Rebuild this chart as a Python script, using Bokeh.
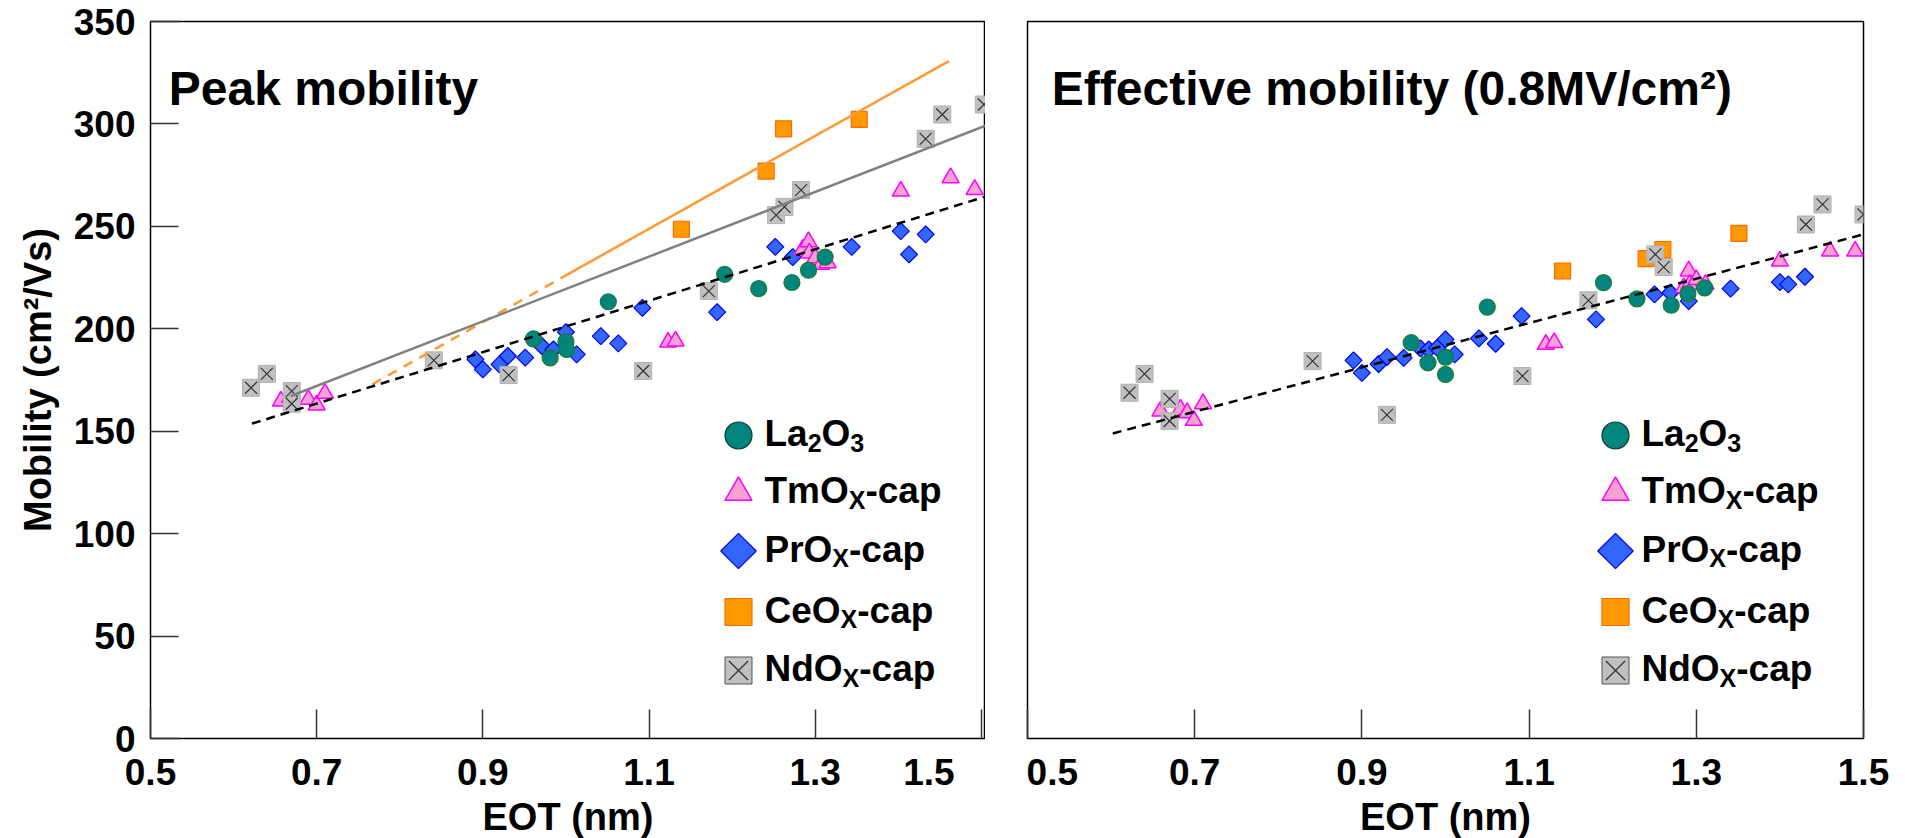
import math
from bokeh.plotting import figure
from bokeh.models import Range1d, FixedTicker, Label
from bokeh.layouts import row
from bokeh.embed import file_html
from bokeh.resources import INLINE

FONT = "Liberation Sans"

# ---------------- data: Peak mobility ----------------
pk_la_x = [0.961, 0.981, 1.000, 1.001, 1.051, 1.191, 1.232, 1.272, 1.292, 1.312]
pk_la_y = [195.1, 185.8, 193.7, 189.9, 213.2, 226.6, 219.6, 222.6, 228.6, 235.0]
pk_tm_x = [0.657, 0.668, 0.690, 0.700, 0.710, 1.123, 1.132, 1.285, 1.292, 1.293, 1.300, 1.307, 1.315, 1.403, 1.463, 1.492]
pk_tm_y = [164.7, 166.5, 165.5, 162.8, 168.5, 193.5, 194.0, 238.7, 242.5, 237.0, 234.6, 231.4, 232.2, 267.2, 273.7, 268.0]
pk_pr_x = [0.891, 0.900, 0.920, 0.930, 0.951, 0.971, 0.985, 1.000, 1.013, 1.042, 1.063, 1.092, 1.182, 1.252, 1.273, 1.344, 1.403, 1.413, 1.433]
pk_pr_y = [185.1, 180.2, 182.6, 186.7, 185.9, 191.6, 189.9, 198.4, 187.5, 196.4, 192.9, 210.2, 208.1, 240.0, 235.0, 240.0, 247.7, 236.3, 246.1]
pk_ce_x = [1.139, 1.241, 1.262, 1.353]
pk_ce_y = [248.6, 277.0, 297.6, 302.2]
pk_nd_x = [0.621, 0.640, 0.670, 0.670, 0.841, 0.931, 1.093, 1.172, 1.253, 1.263, 1.283, 1.433, 1.453, 1.503]
pk_nd_y = [171.2, 178.0, 169.6, 163.4, 184.6, 177.4, 179.4, 218.4, 255.5, 259.5, 267.7, 292.7, 304.6, 309.5]
# fitted trend lines (end points)
pk_fit_all_x = [0.622, 1.503]
pk_fit_all_y = [153.7, 264.3]
pk_fit_nd_x = [0.669, 1.537]
pk_fit_nd_y = [167.2, 304.2]
pk_fit_ce_dash_x = [0.767, 1.000]
pk_fit_ce_dash_y = [172.9, 226.1]
pk_fit_ce_x = [1.000, 1.461]
pk_fit_ce_y = [226.1, 330.7]

# ---------------- data: Effective mobility ----------------
ef_la_x = [0.959, 0.979, 1.000, 1.000, 1.050, 1.189, 1.229, 1.270, 1.290, 1.310]
ef_la_y = [193.2, 183.4, 186.2, 177.7, 210.6, 222.5, 214.6, 211.5, 217.2, 220.0]
ef_tm_x = [0.659, 0.669, 0.683, 0.691, 0.699, 0.710, 1.120, 1.130, 1.285, 1.291, 1.292, 1.300, 1.311, 1.400, 1.460, 1.490]
ef_tm_y = [159.8, 164.7, 160.7, 159.0, 155.3, 163.4, 192.4, 193.2, 220.0, 228.2, 221.7, 224.0, 221.7, 233.0, 237.9, 237.9]
ef_pr_x = [0.890, 0.900, 0.920, 0.930, 0.950, 0.970, 0.980, 0.990, 1.000, 1.011, 1.040, 1.060, 1.091, 1.180, 1.250, 1.269, 1.291, 1.341, 1.400, 1.410, 1.430]
ef_pr_y = [184.6, 178.5, 182.8, 186.2, 185.8, 190.4, 189.9, 190.7, 194.8, 187.5, 195.3, 192.7, 206.2, 204.6, 216.8, 217.6, 213.5, 219.6, 222.8, 221.7, 225.4]
ef_ce_x = [1.140, 1.240, 1.260, 1.351]
ef_ce_y = [228.2, 234.2, 238.7, 246.6]
ef_nd_x = [0.622, 0.640, 0.670, 0.670, 0.841, 0.930, 1.092, 1.171, 1.251, 1.261, 1.431, 1.451, 1.500]
ef_nd_y = [168.8, 178.0, 165.8, 155.0, 184.2, 158.0, 176.9, 213.9, 236.3, 230.1, 250.9, 260.7, 255.8]
ef_fit_x = [0.602, 1.500]
ef_fit_y = [148.9, 246.1]

x_ticks = [0.5, 0.7, 0.9, 1.1, 1.3, 1.5]
y_ticks = [0, 50, 100, 150, 200, 250, 300, 350]

# legend text: list of (text, is_subscript)
legend_texts = [
    [("La", False), ("2", True), ("O", False), ("3", True)],
    [("TmO", False), ("X", True), ("-cap", False)],
    [("PrO", False), ("X", True), ("-cap", False)],
    [("CeO", False), ("X", True), ("-cap", False)],
    [("NdO", False), ("X", True), ("-cap", False)],
]

# ---------------- layout constants ----------------
FRAME_H = 717
TOP = 21
BOTTOM = 100
Y_RANGE = (0, 350)
TICK_FS = 37
AXIS_FS = 38
LEG_FS = 37
SUB_FS = 25
TITLE_FS = 48
NBSP = "\u00a0"

# Arial/Liberation Sans Bold advance widths (em)
W = {' ': 0.278, '-': 0.333, 'L': 0.611, 'a': 0.556, 'O': 0.778, 'T': 0.611, 'm': 0.889,
     'P': 0.667, 'r': 0.389, 'C': 0.722, 'e': 0.556, 'N': 0.722, 'd': 0.611, 'X': 0.667,
     'c': 0.556, 'p': 0.611, '2': 0.556, '3': 0.556}


def text_w(s, fs):
    return sum(W.get(ch, 0.556) for ch in s) * fs


def to_data(xr, frame_w, dx, y_from_top):
    """frame pixel offset (from frame left / figure top) -> data coords"""
    x0, x1 = xr
    xd = x0 + dx / frame_w * (x1 - x0)
    yd = Y_RANGE[1] - (y_from_top - TOP) / FRAME_H * (Y_RANGE[1] - Y_RANGE[0])
    return xd, yd


def make_fig(xr, frame_w, left_b, right_b, show_y):
    p = figure(x_range=Range1d(*xr), y_range=Range1d(*Y_RANGE),
               frame_width=frame_w, frame_height=FRAME_H,
               min_border_left=left_b, min_border_right=right_b,
               min_border_top=TOP, min_border_bottom=BOTTOM,
               output_backend="svg", toolbar_location=None,
               y_axis_location="left" if show_y else None,
               background_fill_color="white", border_fill_color="white")
    p.grid.visible = False
    p.outline_line_color = "black"
    p.outline_line_width = 1.5
    p.xaxis.ticker = FixedTicker(ticks=x_ticks)
    p.xaxis.axis_line_color = None
    p.xaxis.major_tick_in = 29
    p.xaxis.major_tick_out = 0
    p.xaxis.minor_tick_line_color = None
    p.xaxis.major_tick_line_color = "#333333"
    p.xaxis.major_tick_line_width = 1.5
    p.xaxis.major_label_text_font = FONT
    p.xaxis.major_label_text_font_style = "bold"
    p.xaxis.major_label_text_font_size = f"{TICK_FS}px"
    p.xaxis.major_label_text_color = "black"
    p.xaxis.major_label_standoff = 13
    p.xaxis.axis_label = "EOT (nm)"
    p.xaxis.axis_label_text_font = FONT
    p.xaxis.axis_label_text_font_style = "bold"
    p.xaxis.axis_label_text_font_size = f"{AXIS_FS}px"
    p.xaxis.axis_label_text_color = "black"
    p.xaxis.axis_label_standoff = 0
    if show_y:
        p.yaxis.ticker = FixedTicker(ticks=y_ticks)
        p.yaxis.axis_line_color = None
        p.yaxis.major_tick_in = 28
        p.yaxis.major_tick_out = 0
        p.yaxis.minor_tick_line_color = None
        p.yaxis.major_tick_line_color = "#333333"
        p.yaxis.major_tick_line_width = 1.5
        p.yaxis.major_label_text_font = FONT
        p.yaxis.major_label_text_font_style = "bold"
        p.yaxis.major_label_text_font_size = f"{TICK_FS}px"
        p.yaxis.major_label_text_color = "black"
        p.yaxis.major_label_standoff = 15
        p.yaxis.axis_label = "Mobility (cm²/Vs)"
        p.yaxis.axis_label_text_font = FONT
        p.yaxis.axis_label_text_font_style = "bold"
        p.yaxis.axis_label_text_font_size = f"{AXIS_FS}px"
        p.yaxis.axis_label_text_color = "black"
        p.yaxis.axis_label_standoff = 12
    return p


STYLES = {
    "la": dict(marker="circle", fill_color="#00857f", line_color="#1d7a2a", line_width=1.2),
    "tm": dict(marker="triangle", fill_color="#f8a2d2", line_color="#ff00ff", line_width=1.5),
    "pr": dict(marker="square", angle=math.pi / 4, fill_color="#3366ff", line_color="#0000ee", line_width=1.2),
    "ce": dict(marker="square", fill_color="#ff9900", line_color="#ff6a00", line_width=1.2),
    "nd": dict(marker="square", fill_color="#c0c0c0", line_color="#b0b0b0", line_width=1),
}
SIZES = {"la": 16, "tm": 17, "pr": 12, "ce": 16, "nd": 17}
LEG_SIZES = {"la": 27, "tm": 27, "pr": 25, "ce": 27, "nd": 27}
ORDER_DRAW = ["ce", "pr", "tm", "nd", "la"]
ORDER_LEGEND = ["la", "tm", "pr", "ce", "nd"]


def add_series(p, series):
    for key in ORDER_DRAW:
        xs, ys = series[key]
        p.scatter(xs, ys, size=SIZES[key], **STYLES[key])
        if key == "nd":
            p.scatter(xs, ys, marker="x", size=SIZES[key], line_color="#333333", line_width=1.2)


LEG_CENTERS = [435, 492, 550.5, 611.5, 670]   # marker centres, px from figure top
LEG_MARKER_X = 588                            # px from frame left
LEG_TEXT_X = 614
TEXT_BASE_DY = -2


def add_legend(p, xr, frame_w):
    for key, cy, pieces in zip(ORDER_LEGEND, LEG_CENTERS, legend_texts):
        mx, my = to_data(xr, frame_w, LEG_MARKER_X, cy)
        st = dict(STYLES[key])
        if key == "la":
            st["line_color"] = "#1a3a2a"
        if key == "nd":
            st["line_color"] = "#555555"
        p.scatter([mx], [my], size=LEG_SIZES[key], **st)
        if key == "nd":
            p.scatter([mx], [my], marker="x", size=LEG_SIZES[key], line_color="#333333", line_width=1.3)
        tx, ty = to_data(xr, frame_w, LEG_TEXT_X, cy + TEXT_BASE_DY)
        off = 0.0
        for txt, sub in pieces:
            fs = SUB_FS if sub else LEG_FS
            p.add_layout(Label(x=tx, y=ty, x_offset=off, y_offset=-9 if sub else 0,
                               text=txt, text_font=FONT, text_font_style="bold",
                               text_font_size=f"{fs}px", text_color="black",
                               text_align="left", text_baseline="alphabetic"))
            off += text_w(txt, fs)


def add_title(p, xr, frame_w, text, dx):
    tx, ty = to_data(xr, frame_w, dx, 88)
    p.add_layout(Label(x=tx, y=ty, text=text, text_font=FONT, text_font_style="bold",
                       text_font_size=f"{TITLE_FS}px", text_color="black",
                       text_align="left", text_baseline="alphabetic"))


# ---------------- left: peak mobility ----------------
XL = (0.5, 1.505)
p1 = make_fig(XL, 835, 150, 0, True)
p1.xaxis.major_label_overrides = {1.5: "1.5" + NBSP * 3}
add_series(p1, {"la": (pk_la_x, pk_la_y), "tm": (pk_tm_x, pk_tm_y), "pr": (pk_pr_x, pk_pr_y),
                "ce": (pk_ce_x, pk_ce_y), "nd": (pk_nd_x, pk_nd_y)})
p1.line(pk_fit_ce_dash_x, pk_fit_ce_dash_y, line_color="#ff9933", line_width=2.5, line_dash="10 8")
p1.line(pk_fit_ce_x, pk_fit_ce_y, line_color="#ff9933", line_width=2.5)
p1.line(pk_fit_nd_x, pk_fit_nd_y, line_color="#808080", line_width=2.5)
p1.line(pk_fit_all_x, pk_fit_all_y, line_color="black", line_width=2.5, line_dash="9 6")
add_legend(p1, XL, 835)
add_title(p1, XL, 835, "Peak mobility", 18.3)

# ---------------- right: effective mobility ----------------
XR = (0.5, 1.5)
p2 = make_fig(XR, 836, 42, 42, False)
p2.xaxis.major_label_overrides = {0.5: NBSP * 4 + "0.5"}
add_series(p2, {"la": (ef_la_x, ef_la_y), "tm": (ef_tm_x, ef_tm_y), "pr": (ef_pr_x, ef_pr_y),
                "ce": (ef_ce_x, ef_ce_y), "nd": (ef_nd_x, ef_nd_y)})
p2.line(ef_fit_x, ef_fit_y, line_color="black", line_width=2.5, line_dash="9 6")
add_legend(p2, XR, 836)
add_title(p2, XR, 836, "Effective mobility (0.8MV/cm²)", 24.3)

layout = row(p1, p2)
open("out.html", "w").write(file_html(layout, INLINE))
